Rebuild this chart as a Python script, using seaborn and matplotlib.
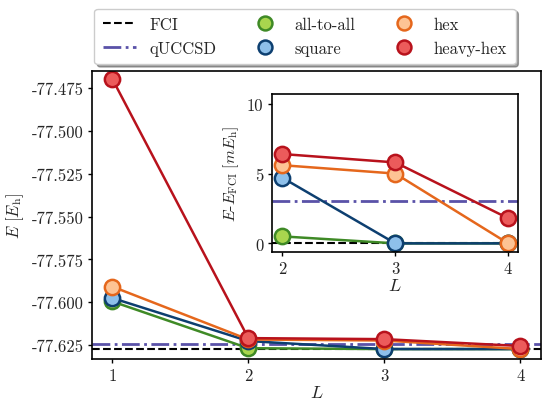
import numpy as np
import pandas as pd
import seaborn as sns
import matplotlib.pyplot as plt
from matplotlib.lines import Line2D

# data
layers = [1, 2, 3, 4]
e_fci = -77.6274
e_quccsd_mEh = 3.0
e_layer1 = {"all-to-all": -77.5996, "square": -77.5976, "hex": -77.5909, "heavy-hex": -77.4696}
# errors w.r.t. FCI in mEh for L = 2, 3, 4
err_all_to_all = [0.5, 0.0, 0.0]
err_square = [4.7, 0.0, 0.0]
err_hex = [5.6, 5.0, 0.0]
err_heavy_hex = [6.4, 5.8, 1.8]

series = ["all-to-all", "square", "hex", "heavy-hex"]
errors = {"all-to-all": err_all_to_all, "square": err_square,
          "hex": err_hex, "heavy-hex": err_heavy_hex}
edge = {"all-to-all": "#3f8a26", "square": "#0d3f70", "hex": "#e5671c", "heavy-hex": "#b8121c"}
face = {"all-to-all": "#a9d64e", "square": "#8ec0ea", "hex": "#fdc394", "heavy-hex": "#ec5b5b"}
qcolor = "#5a52a8"

sns.set_style("ticks")
plt.rcParams["font.family"] = ["cmr10", "DejaVu Serif"]
plt.rcParams["mathtext.fontset"] = "cm"
plt.rcParams["axes.unicode_minus"] = False
plt.rcParams["font.size"] = 11

rows = []
for s in series:
    rows.append({"series": s, "L": 1, "E": e_layer1[s]})
    for L, err in zip(layers[1:], errors[s]):
        rows.append({"series": s, "L": L, "E": e_fci + err / 1000.0, "err": err})
df = pd.DataFrame(rows)

fig = plt.figure(figsize=(5.43, 4.02), dpi=100)
ax = fig.add_axes([0.1694, 0.1045, 0.8263, 0.7164])
ins = fig.add_axes([0.5004, 0.3706, 0.4541, 0.393])

ax.axhline(e_fci, color="black", ls="--", lw=1.5, zorder=1)
ax.axhline(e_fci + e_quccsd_mEh / 1000.0, color=qcolor, ls="-.", lw=2, zorder=1)
ins.axhline(0, color="black", ls="--", lw=1.5, zorder=1)
ins.axhline(e_quccsd_mEh, color=qcolor, ls="-.", lw=2, zorder=1)

style = dict(marker="o", markersize=11, markeredgewidth=1.8, lw=1.8)
for s in series:
    d = df[df["series"] == s]
    sns.lineplot(data=d, x="L", y="E", ax=ax, color=edge[s],
                 markerfacecolor=face[s], markeredgecolor=edge[s], **style)
    d2 = d[d["L"] > 1]
    sns.lineplot(data=d2, x="L", y="err", ax=ins, color=edge[s],
                 markerfacecolor=face[s], markeredgecolor=edge[s], **style)

ax.set_xlim(0.85, 4.15)
ax.set_ylim(-77.6332, -77.4649)
ax.set_xticks(layers)
ax.set_yticks([-77.475, -77.5, -77.525, -77.55, -77.575, -77.6, -77.625])
ax.set_yticklabels(["-77.475", "-77.500", "-77.525", "-77.550", "-77.575", "-77.600", "-77.625"])
ax.set_xlabel("$L$", fontsize=13, labelpad=1)
ax.set_ylabel(r"$E\ [E_\mathrm{h}]$", fontsize=12)

ins.set_xlim(1.905, 4.09)
ins.set_ylim(-0.62, 10.7)
ins.set_xticks([2, 3, 4])
ins.set_yticks([0, 5, 10])
ins.set_xlabel("$L$", fontsize=13, labelpad=1)
ins.set_ylabel(r"$E$-$E_\mathrm{FCI}\ [mE_\mathrm{h}]$", fontsize=11.5)

for a in (ax, ins):
    a.tick_params(labelsize=12, length=3, width=1, color="black", pad=3)
    for sp in a.spines.values():
        sp.set_color("black")
        sp.set_linewidth(1.2)

handles = [Line2D([], [], color="black", ls="--", lw=1.5, label="FCI"),
           Line2D([], [], color=qcolor, ls="-.", lw=2, label="qUCCSD")]
for s in series:
    handles.append(Line2D([], [], ls="none", marker="o", markersize=10,
                          markerfacecolor=face[s], markeredgecolor=edge[s],
                          markeredgewidth=1.8, label=s))
fig.legend(handles=handles, ncol=3, loc="upper center", bbox_to_anchor=(0.5617, 0.997),
           fontsize=12, frameon=True, shadow=True, fancybox=True,
           columnspacing=1.9, handlelength=2.0, borderpad=0.5, labelspacing=0.5)

fig.savefig("out.png", dpi=100)
